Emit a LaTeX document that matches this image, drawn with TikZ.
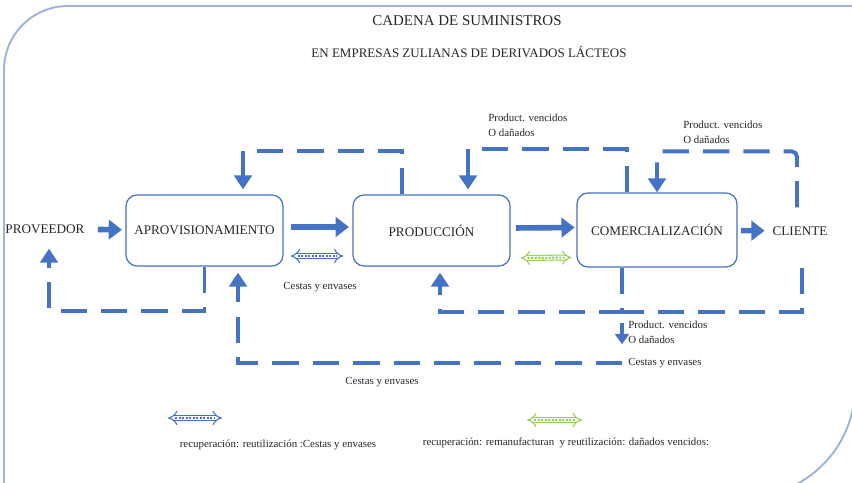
\documentclass[tikz,border=0pt]{standalone}
\usepackage{fontspec}
\setmainfont{Liberation Serif}
\usetikzlibrary{arrows.meta,calc}

\definecolor{chainblue}{HTML}{4472C4}
\definecolor{frameblue}{HTML}{9DB3DA}
\definecolor{recgreen}{HTML}{92D050}

\begin{document}
\begin{tikzpicture}[x=0.02cm, y=-0.02cm,
  stage/.style={draw=chainblue, line width=0.7pt, rounded corners=0.22cm, minimum width=3.14cm, minimum height=1.42cm, text=black!85, font=\fontsize{7.5}{9}\selectfont},
  endpoint/.style={text=black!85, font=\fontsize{7.5}{9}\selectfont},
  small/.style={text=black!85, font=\fontsize{6.2}{8.5}\selectfont, align=left, inner sep=0pt},
  flow/.style={chainblue, line width=3.2pt, -{Triangle[width=11pt,length=7.5pt]}},
  back/.style={chainblue, line width=2.2pt, dash pattern=on 15pt off 8pt, -{Triangle[width=10pt,length=8pt]}},
  recov/.style={draw=#1, line width=0.6pt, double=white, double distance=2.2pt, {Implies}-{Implies}},
]
\useasboundingbox (0,0) rectangle (852,483);
\clip (0,0) rectangle (852,483);

% Frame
\draw[frameblue, line width=1.1pt, rounded corners=1.28cm] (4,560) -- (4,6) -- (920,6);
\draw[frameblue, line width=1.1pt, rounded corners=2.2cm] (855,-40) -- (855,497) -- (560,497);

% Title
\node[text=black!85, font=\fontsize{8.5}{10}\selectfont] (title) at (467,21) {CADENA DE SUMINISTROS};
\node[text=black!85, font=\fontsize{7.4}{9}\selectfont] (subtitle) at (469,52) {EN EMPRESAS ZULIANAS DE DERIVADOS LÁCTEOS};

% Chain
\node[endpoint] (prov) at (45,229) {PROVEEDOR};
\node[stage] (aprov) at (204.5,230.5) {APROVISIONAMIENTO};
\node[stage] (prod) at (431.5,230.5) {PRODUCCIÓN};
\node[stage, minimum width=3.2cm, minimum height=1.48cm] (com) at (657,230) {COMERCIALIZACIÓN};
\node[endpoint] (cli) at (800,231) {CLIENTE};

\draw[flow, shorten <=4pt, shorten >=2pt] (prov) -- (aprov);
\draw[flow, shorten <=4pt, shorten >=2pt] ([yshift=0.07cm]aprov.east) -- ([yshift=0.07cm]prod.west);
\draw[flow, shorten <=3pt, shorten >=1pt] ([yshift=0.05cm]prod.east) -- ([yshift=0.05cm]com.west);
\draw[flow, shorten <=2pt, shorten >=1pt] (com) -- (cli);

% Labels
\node[small, anchor=north west] (pv1) at (488,114) {Product. vencidos\\O dañados};
\node[small, anchor=north west] (pv2) at (683,121) {Product. vencidos\\O dañados};
\node[small, anchor=north west] (pv3) at (628,321) {Product. vencidos\\O dañados};
\node[small] (ce1) at (320,287) {Cestas y envases};
\node[small, anchor=west] (ce2) at (628,363) {Cestas y envases};
\node[small] (ce3) at (382,382) {Cestas y envases};

% Feedback loops
\draw[back] ($(prod.north)+(-29.5,0)$) -- ++(0,-43) -| ($(aprov.north)+(38.5,-5)$);
\draw[back] ($(com.north)+(-30,0)$) -- ++(0,-43) -| ($(prod.north)+(36.5,-5)$);
\draw[back, rounded corners=3pt] ($(cli.north)+(-3,-13)$) |- ($(com.north)+(0,-41)$) -- (com.north);
\draw[back] (aprov.south) -- ++(0,44) -| ($(prov.south)+(4,9)$);
\coordinate (jb) at ($(com.south)+(-35,44)$);
\draw[back] (com.south -| jb) -- (jb) -| ($(prod.south)+(8.5,6)$);
\draw[back, -] ($(cli.south)+(2,26)$) |- (jb);
\draw[chainblue, line width=1.8pt, -{Triangle[width=8pt,length=6pt]}] ($(jb)+(0,11)$) -- (jb |- pv3.south);
\draw[back] ($(ce2.west)+(-6,0)$) -| ($(aprov.south)+(33.5,6)$);

% Recovery arrows
\coordinate (rb1) at ($(aprov.east)+(7,25.5)$);
\coordinate (rb2) at ($(prod.west)+(-9,25.5)$);
\coordinate (rg1) at ($(prod.east)+(10,27.5)$);
\coordinate (rg2) at ($(com.west)+(-5,27.5)$);
\coordinate (lb1) at (168,418);
\coordinate (lb2) at (222,418);
\coordinate (lg1) at (527,420);
\coordinate (lg2) at (582,420);
\foreach \s/\e/\c in {rb1/rb2/chainblue, rg1/rg2/recgreen, lb1/lb2/chainblue, lg1/lg2/recgreen} {
  \draw[recov=\c] (\s) -- (\e);
  \draw[\c, line width=1.1pt, dash pattern=on 1.2pt off 0.8pt, shorten <=4pt, shorten >=4pt] (\s) -- (\e);
}

% Legend
\node[small] (lt1) at (278,445) {recuperación: reutilización :Cestas y envases};
\node[small] (lt2) at (566,443) {recuperación: remanufacturan~ y reutilización: dañados vencidos:};
\end{tikzpicture}
\end{document}
